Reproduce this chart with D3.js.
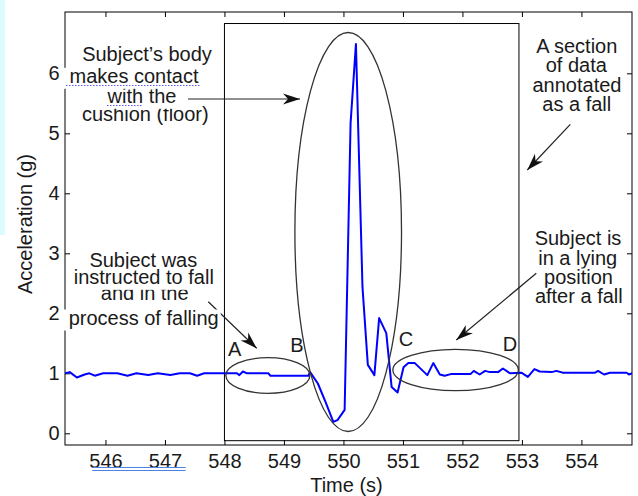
<!DOCTYPE html>
<html>
<head>
<meta charset="utf-8">
<script src="https://cdn.jsdelivr.net/npm/d3@7"></script>
<style>
  html, body { margin: 0; padding: 0; background: #ffffff; }
  svg { display: block; }
  text { font-family: "Liberation Sans", Arial, sans-serif; }
</style>
</head>
<body>
<svg id="chart" width="638" height="496"></svg>
<script>
// Accelerometer magnitude around a recorded fall
const timeS = [
  545.32, 545.40, 545.52, 545.65, 545.73, 545.82, 545.96, 546.20, 546.37, 546.52,
  546.72, 546.88, 547.09, 547.25, 547.42, 547.54, 547.66, 548.00, 548.21, 548.25,
  548.31, 548.38, 548.74, 548.77, 549.41, 549.44, 549.57, 549.70, 549.83, 549.90,
  550.02, 550.12, 550.21, 550.32, 550.41, 550.52, 550.60, 550.72, 550.81, 550.91,
  551.01, 551.09, 551.20, 551.41, 551.51, 551.62, 551.70, 551.82, 552.14, 552.19,
  552.29, 552.38, 552.46, 552.60, 552.68, 552.80, 552.99, 553.10, 553.21, 553.30,
  553.50, 553.58, 553.69, 554.23, 554.28, 554.38, 554.48, 554.76, 554.80, 554.87
];
const accelG = [
  1.00, 1.02, 0.93, 0.98, 1.00, 0.96, 1.00, 1.00, 0.96, 1.00,
  0.97, 1.00, 0.97, 1.00, 1.00, 0.96, 1.00, 1.00, 1.00, 0.97,
  1.03, 1.00, 1.00, 0.96, 0.96, 1.02, 0.83, 0.52, 0.19, 0.22,
  0.39, 5.17, 6.49, 2.44, 1.14, 0.97, 1.92, 1.67, 0.77, 0.68,
  1.10, 1.17, 1.17, 0.97, 1.17, 0.98, 0.96, 0.99, 0.99, 1.04,
  0.98, 1.04, 1.02, 1.02, 1.08, 1.00, 1.01, 0.94, 1.07, 1.03,
  1.02, 1.04, 1.01, 1.01, 1.04, 0.98, 1.01, 1.01, 0.98, 1.01
];
const xTickValues = [546, 547, 548, 549, 550, 551, 552, 553, 554];
const yTickValues = [0, 1, 2, 3, 4, 5, 6];

// Section of data annotated as a fall (time span, g span)
const fallSpan = { t0: 548.0, t1: 552.95, g0: -0.123, g1: 6.83 };
// Phase ellipses in data units: centre (t, g) and radii (dt, dg)
const phaseEllipses = [
  { t: 548.73, g: 0.963, dt: 0.706, dg: 0.297 },
  { t: 550.08, g: 3.355, dt: 0.896, dg: 3.325 },
  { t: 551.886, g: 1.055, dt: 1.055, dg: 0.345 }
];
const phaseLetters = [
  { label: "A", t: 548.17, g: 1.29 },
  { label: "B", t: 549.22, g: 1.36 },
  { label: "C", t: 551.05, g: 1.45 },
  { label: "D", t: 552.80, g: 1.37 }
];

const plotL = 65, plotR = 632, plotT = 12, plotB = 445;
const ink = "#1a1a1a";

const svg = d3.select("#chart");

const x = d3.scaleLinear().domain([545.32, 554.85]).range([plotL, plotR]);
const y = d3.scaleLinear().domain([-0.195, 7.022]).range([plotB, plotT]);

// Screen-capture tint along the left edge
svg.append("rect").attr("x", 0).attr("y", 0).attr("width", 5).attr("height", 235)
  .attr("fill", "#dcfbfd");

// Axes with inward ticks on all four sides
const styleAxis = g => {
  g.select(".domain").remove();
  g.selectAll(".tick line").attr("stroke", "#000").attr("stroke-width", 1);
  g.selectAll(".tick text").attr("fill", ink).attr("font-size", 20)
    .attr("font-family", "'Liberation Sans', Arial, sans-serif");
};
svg.append("g").attr("transform", `translate(0,${plotB})`)
  .call(d3.axisBottom(x).tickValues(xTickValues).tickFormat(d3.format("d"))
    .tickSize(-5).tickSizeOuter(0).tickPadding(8.3))
  .call(styleAxis);
svg.append("g").attr("transform", `translate(0,${plotT})`)
  .call(d3.axisTop(x).tickValues(xTickValues).tickFormat("")
    .tickSize(-5).tickSizeOuter(0))
  .call(styleAxis);
svg.append("g").attr("transform", `translate(${plotL},0)`)
  .call(d3.axisLeft(y).tickValues(yTickValues).tickFormat(d3.format("d"))
    .tickSize(-5).tickSizeOuter(0).tickPadding(5.5))
  .call(styleAxis);
svg.append("g").attr("transform", `translate(${plotR},0)`)
  .call(d3.axisRight(y).tickValues(yTickValues).tickFormat("")
    .tickSize(-5).tickSizeOuter(0))
  .call(styleAxis);

svg.append("rect")
  .attr("x", plotL).attr("y", plotT).attr("width", plotR - plotL).attr("height", plotB - plotT)
  .attr("fill", "none").attr("stroke", "#000").attr("stroke-width", 1);

// Fall section box
svg.append("rect")
  .attr("x", x(fallSpan.t0)).attr("y", y(fallSpan.g1))
  .attr("width", x(fallSpan.t1) - x(fallSpan.t0))
  .attr("height", y(fallSpan.g0) - y(fallSpan.g1))
  .attr("fill", "none").attr("stroke", "#000").attr("stroke-width", 1);

// Signal
svg.append("clipPath").attr("id", "plotClip").append("rect")
  .attr("x", plotL).attr("y", plotT).attr("width", plotR - plotL).attr("height", plotB - plotT);
const points = timeS.map((t, i) => [t, accelG[i]]);
svg.append("path").datum(points)
  .attr("clip-path", "url(#plotClip)")
  .attr("d", d3.line().x(d => x(d[0])).y(d => y(d[1])))
  .attr("fill", "none").attr("stroke", "#0000ff").attr("stroke-width", 2)
  .attr("stroke-linejoin", "round");

// Phase ellipses and letters
svg.selectAll("ellipse.phase").data(phaseEllipses).join("ellipse")
  .attr("class", "phase")
  .attr("cx", d => x(d.t)).attr("cy", d => y(d.g))
  .attr("rx", d => x(d.t + d.dt) - x(d.t)).attr("ry", d => y(d.g - d.dg) - y(d.g))
  .attr("fill", "none").attr("stroke", "#333").attr("stroke-width", 1.3);
svg.selectAll("text.phase").data(phaseLetters).join("text")
  .attr("class", "phase")
  .attr("x", d => x(d.t)).attr("y", d => y(d.g))
  .attr("text-anchor", "middle").attr("font-size", 20).attr("fill", ink)
  .text(d => d.label);

// Arrows
const defs = svg.append("defs");
defs.append("marker").attr("id", "head")
  .attr("viewBox", "-18 -6 19 12").attr("refX", 0).attr("refY", 0)
  .attr("markerWidth", 19).attr("markerHeight", 12)
  .attr("markerUnits", "userSpaceOnUse").attr("orient", "auto")
  .append("path").attr("d", "M0,0 L-17,-5.5 L-12,0 L-17,5.5 Z").attr("fill", "#111");
const arrows = [
  [188, 99, 300, 99],
  [570.3, 124.3, 527.3, 170],
  [208.3, 301.7, 256.7, 348.3],
  [536.3, 273.3, 456.3, 340]
];
arrows.forEach(a => {
  svg.append("line").attr("x1", a[0]).attr("y1", a[1]).attr("x2", a[2]).attr("y2", a[3])
    .attr("stroke", "#222").attr("stroke-width", 1.2).attr("marker-end", "url(#head)");
});

// Callout text: each line sits on a white box
function calloutLine(txt, cx, baseline, box) {
  const g = svg.append("g");
  const r = g.append("rect").attr("fill", "#fff");
  const t = g.append("text").attr("x", cx).attr("y", baseline)
    .attr("text-anchor", "middle").attr("font-size", 20).attr("fill", ink).text(txt);
  const bb = t.node().getBBox();
  const x0 = box && box.x0 != null ? box.x0 : bb.x - 2;
  const x1 = box && box.x1 != null ? box.x1 : bb.x + bb.width + 2;
  r.attr("x", x0).attr("width", x1 - x0)
    .attr("y", baseline - 15.5).attr("height", 21);
}

calloutLine("Subject\u2019s body", 147, 61);
calloutLine("cushion (floor)", 145.3, 121);
calloutLine("with the", 142, 103.3);
calloutLine("makes contact", 134, 83.3, { x0: 62.5 });

calloutLine("A section", 576.8, 53.3);
calloutLine("of data", 576.3, 71.7);
calloutLine("annotated", 577, 91.7);
calloutLine("as a fall", 576.8, 110.7);

calloutLine("Subject is", 578, 245.3);
calloutLine("in a lying", 577.7, 265);
calloutLine("position", 578.5, 284);
calloutLine("after a fall", 578.8, 303.3);

calloutLine("Subject was", 143.3, 266.7);
calloutLine("and in the", 144.7, 300);
calloutLine("instructed to fall", 143.8, 284.3);
calloutLine("process of falling", 143.7, 325, { x0: 62.5 });

// Editor proofing marks
svg.append("line").attr("x1", 66).attr("x2", 201).attr("y1", 85.5).attr("y2", 85.5)
  .attr("stroke", "#5a5af0").attr("stroke-width", 1.2).attr("stroke-dasharray", "1.5,1.5");
svg.append("line").attr("x1", 107).attr("x2", 143).attr("y1", 105.5).attr("y2", 105.5)
  .attr("stroke", "#5a5af0").attr("stroke-width", 1.2).attr("stroke-dasharray", "1.5,1.5");
[467.5, 470.5].forEach(yy => {
  svg.append("line").attr("x1", 92.3).attr("x2", 185.7).attr("y1", yy).attr("y2", yy)
    .attr("stroke", "#4a82e8").attr("stroke-width", 1.2);
});

// Axis titles
svg.append("text").attr("transform", "translate(32,224) rotate(-90)")
  .attr("text-anchor", "middle").attr("font-size", 20).attr("fill", ink)
  .text("Acceleration (g)");
svg.append("text").attr("x", 346.5).attr("y", 492)
  .attr("text-anchor", "middle").attr("font-size", 20).attr("fill", ink)
  .text("Time (s)");
</script>
</body>
</html>
